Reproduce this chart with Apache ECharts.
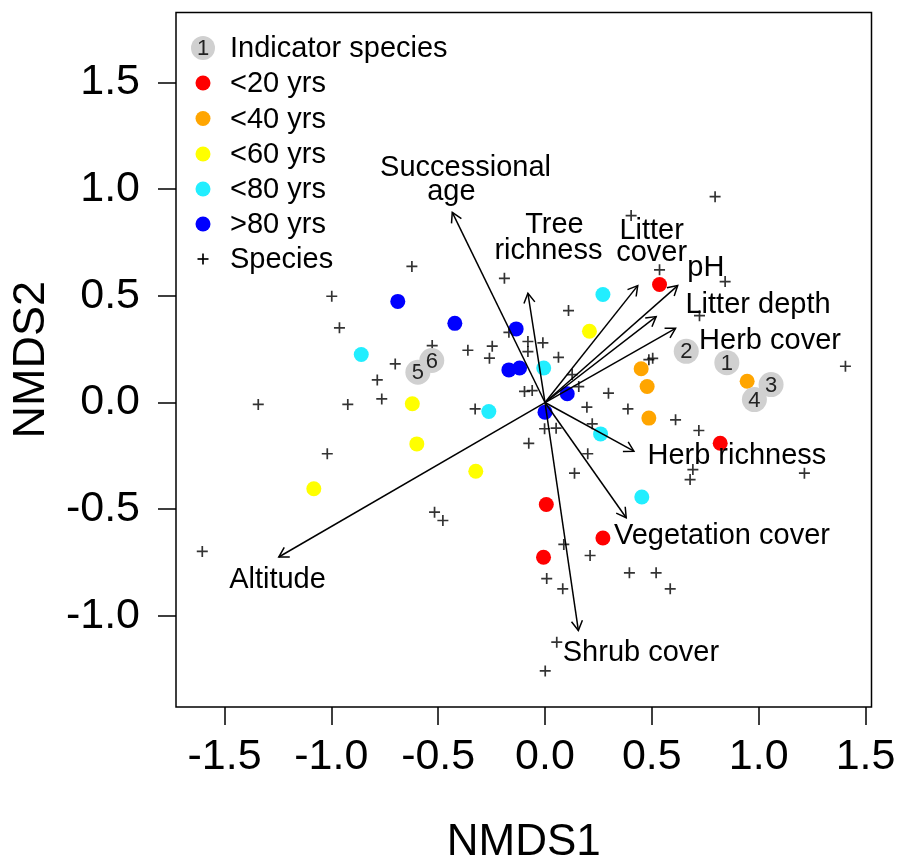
<!DOCTYPE html>
<html><head><meta charset="utf-8">
<script src="https://cdn.jsdelivr.net/npm/echarts@6/dist/echarts.min.js"></script>
<style>html,body{margin:0;padding:0;background:#fff}#c{width:901px;height:861px}</style>
</head><body><div id="c"></div>
<script>
const FONT = '"Liberation Sans", Arial, sans-serif';

// Axis tick values
const xTicks = [-1.5, -1.0, -0.5, 0.0, 0.5, 1.0, 1.5];
const yTicks = [-1.0, -0.5, 0.0, 0.5, 1.0, 1.5];

// Species scores (+)
const speciesPts = [
  [-0.998, 0.498], [-0.962, 0.350], [-0.528, 0.267], [-0.701, 0.181], [-0.785, 0.106],
  [-0.764, 0.017], [-0.923, -0.009], [-1.342, -0.009], [-0.361, 0.245], [-0.247, 0.264],
  [-0.260, 0.208], [-0.169, 0.329], [-0.080, 0.286], [-0.010, 0.280], [-0.080, 0.239],
  [-0.096, 0.052], [-0.060, 0.056], [-0.327, -0.030], [-0.002, -0.123], [-0.076, -0.191],
  [-1.019, -0.240], [-0.517, -0.514], [-0.478, -0.553], [-1.604, -0.698], [0.008, -0.825],
  [0.110, 0.431], [0.063, 0.212], [0.486, 0.201], [0.504, 0.207], [0.723, 0.407],
  [0.127, 0.131], [0.158, 0.075], [0.297, 0.044], [0.196, -0.022], [0.388, -0.030],
  [0.221, -0.100], [0.611, -0.081], [0.720, -0.131], [0.052, -0.120], [0.200, -0.240],
  [0.138, -0.331], [0.692, -0.314], [0.679, -0.361], [1.214, -0.331], [1.406, 0.170],
  [0.088, -0.665], [0.211, -0.717], [0.083, -0.873], [0.395, -0.798], [0.520, -0.798],
  [0.586, -0.873], [0.843, 0.567], [0.536, 0.622], [0.796, 0.965], [0.403, 0.876],
  [-0.623, 0.638], [-0.190, 0.582], [0.055, -1.123], [0.001, -1.258]
];

// Site scores by stand age
const sitesLt20 = [[0.536, 0.553], [0.006, -0.478], [-0.007, -0.725], [0.820, -0.191], [0.271, -0.635]];
const sitesLt40 = [[0.450, 0.158], [0.478, 0.075], [0.486, -0.073], [0.946, 0.100]];
const sitesLt60 = [[0.208, 0.334], [-0.621, -0.006], [-0.600, -0.194], [-0.324, -0.322], [-1.082, -0.404]];
const sitesLt80 = [[0.271, 0.506], [-0.860, 0.225], [-0.006, 0.162], [-0.263, -0.042], [0.260, -0.147], [0.453, -0.443]];
const sitesGt80 = [[-0.689, 0.474], [-0.422, 0.371], [-0.135, 0.345], [-0.169, 0.153], [-0.119, 0.162], [0.000, -0.045], [0.104, 0.041]];

// Indicator species
const indicatorIds = ['1', '2', '3', '4', '5', '6'];
const indicatorPts = [[0.851, 0.187], [0.661, 0.240], [1.058, 0.084], [0.980, 0.014], [-0.595, 0.142], [-0.530, 0.197]];

// Environmental vectors
const envNames = ['Successional age', 'Tree richness', 'Litter cover', 'pH', 'Litter depth', 'Herb cover',
  'Herb richness', 'Vegetation cover', 'Shrub cover', 'Altitude'];
const envX = [-0.434, -0.080, 0.434, 0.621, 0.520, 0.611, 0.416, 0.380, 0.156, -1.246];
const envY = [0.891, 0.512, 0.548, 0.548, 0.403, 0.348, -0.228, -0.540, -1.068, -0.724];

// Vector label lines and their positions
const envLabelText = ['Successional', 'age', 'Tree', 'richness', 'Litter', 'cover', 'pH', 'Litter depth',
  'Herb cover', 'Herb richness', 'Vegetation cover', 'Shrub cover', 'Altitude'];
const envLabelX = [-0.372, -0.438, 0.044, 0.016, 0.499, 0.499, 0.753, 0.997, 1.053, 0.898, 0.828, 0.449, -1.252];
const envLabelY = [1.100, 0.985, 0.833, 0.708, 0.805, 0.700, 0.630, 0.458, 0.290, -0.252, -0.627, -1.175, -0.830];

const legendNames = ['Indicator species', '<20 yrs', '<40 yrs', '<60 yrs', '<80 yrs', '>80 yrs', 'Species'];
const siteColors = ['#FF0000', '#FFA500', '#FFFF00', '#22EEFF', '#0000FF'];

const chart = echarts.init(document.getElementById('c'), null, {renderer: 'canvas'});

function siteSeries(name, data, color) {
  return {
    name: name, type: 'scatter', data: data, symbol: 'circle', symbolSize: 15, z: 3,
    itemStyle: {color: color, opacity: 1}, silent: true
  };
}

const labelData = envLabelText.map((t, i) => ({name: t, value: [envLabelX[i], envLabelY[i]]}));
const envData = envNames.map((n, i) => ({name: n, value: [envX[i], envY[i]]}));
const indicatorData = indicatorPts.map((p, i) => ({name: indicatorIds[i], value: p}));

// Legend built from graphic elements
const legendRowY = [48, 83, 118.5, 154, 189, 224, 259];
const legendGraphics = [];
legendNames.forEach((n, i) => {
  const y = legendRowY[i];
  if (i === 0) {
    legendGraphics.push({type: 'circle', shape: {cx: 203, cy: y, r: 12}, style: {fill: '#D0D0D0'}});
    legendGraphics.push({type: 'text', x: 203, y: y + 1, style: {text: '1', font: '22px ' + FONT, fill: '#222', align: 'center', verticalAlign: 'middle'}});
  } else if (i <= 5) {
    legendGraphics.push({type: 'circle', shape: {cx: 203, cy: y, r: 7.5}, style: {fill: siteColors[i - 1]}});
  } else {
    legendGraphics.push({type: 'polyline', shape: {points: [[197.5, y], [208.5, y]]}, style: {stroke: '#000', lineWidth: 1.7}});
    legendGraphics.push({type: 'polyline', shape: {points: [[203, y - 5.5], [203, y + 5.5]]}, style: {stroke: '#000', lineWidth: 1.7}});
  }
  legendGraphics.push({type: 'text', x: 230, y: y + 1, style: {text: n, font: '29px ' + FONT, fill: '#000', align: 'left', verticalAlign: 'middle'}});
});

const option = {
  animation: false,
  backgroundColor: '#fff',
  grid: {left: 176, right: 29.5, top: 12.5, bottom: 154, outerBoundsMode: 'none', containLabel: false,
    show: true, borderColor: '#000', borderWidth: 1.5, backgroundColor: 'transparent'},
  xAxis: {
    type: 'value', min: -1.727, max: 1.528,
    name: 'NMDS1', nameLocation: 'middle', nameGap: 114,
    nameTextStyle: {fontSize: 44, color: '#000', fontFamily: FONT},
    axisLine: {show: false, onZero: false},
    splitLine: {show: false},
    axisTick: {show: true, inside: false, length: 18, customValues: xTicks, lineStyle: {color: '#000', width: 1.5}},
    axisLabel: {customValues: xTicks, formatter: v => v.toFixed(1), fontSize: 43, color: '#000', fontFamily: FONT, margin: 29}
  },
  yAxis: {
    type: 'value', min: -1.427, max: 1.828,
    name: 'NMDS2', nameLocation: 'middle', nameGap: 122, nameRotate: 90,
    nameTextStyle: {fontSize: 45, color: '#000', fontFamily: FONT},
    axisLine: {show: false, onZero: false},
    splitLine: {show: false},
    axisTick: {show: true, inside: false, length: 18, customValues: yTicks, lineStyle: {color: '#000', width: 1.5}},
    axisLabel: {customValues: yTicks, formatter: v => v.toFixed(1), fontSize: 43, color: '#000', fontFamily: FONT, margin: 36}
  },
  graphic: legendGraphics,
  series: [
    {
      name: 'Species', type: 'scatter', data: speciesPts, z: 2, silent: true,
      symbol: 'path://M0,5L10,5M5,0L5,10', symbolSize: 11,
      itemStyle: {color: 'rgba(0,0,0,0)', borderColor: '#000', borderWidth: 1.7}
    },
    siteSeries('<20 yrs', sitesLt20, siteColors[0]),
    siteSeries('<40 yrs', sitesLt40, siteColors[1]),
    siteSeries('<60 yrs', sitesLt60, siteColors[2]),
    siteSeries('<80 yrs', sitesLt80, siteColors[3]),
    siteSeries('>80 yrs', sitesGt80, siteColors[4]),
    {
      name: 'Indicator species', type: 'custom', z: 4, silent: true, data: indicatorData,
      renderItem: function (params, api) {
        const p = api.coord([api.value(0), api.value(1)]);
        return {
          type: 'group', children: [
            {type: 'circle', shape: {cx: p[0], cy: p[1], r: 12.5}, style: {fill: '#D0D0D0'}},
            {type: 'text', x: p[0], y: p[1] + 1, style: {text: indicatorData[params.dataIndex].name, font: '22px ' + FONT, fill: '#222', align: 'center', verticalAlign: 'middle'}}
          ]
        };
      }
    },
    {
      name: 'Environment', type: 'custom', z: 5, silent: true, data: envData,
      renderItem: function (params, api) {
        const o = api.coord([0, 0]);
        const p = api.coord([api.value(0), api.value(1)]);
        const ang = Math.atan2(p[1] - o[1], p[0] - o[0]);
        const L = 11, A = Math.PI / 6;
        const h1 = [p[0] - L * Math.cos(ang - A), p[1] - L * Math.sin(ang - A)];
        const h2 = [p[0] - L * Math.cos(ang + A), p[1] - L * Math.sin(ang + A)];
        return {
          type: 'group', children: [
            {type: 'line', shape: {x1: o[0], y1: o[1], x2: p[0], y2: p[1]}, style: {stroke: '#000', lineWidth: 1.5}},
            {type: 'polyline', shape: {points: [h1, p, h2]}, style: {stroke: '#000', lineWidth: 1.5, fill: null}}
          ]
        };
      }
    },
    {
      name: 'Vector labels', type: 'custom', z: 6, silent: true, data: labelData,
      renderItem: function (params, api) {
        const p = api.coord([api.value(0), api.value(1)]);
        return {type: 'text', x: p[0], y: p[1], style: {text: labelData[params.dataIndex].name, font: '29px ' + FONT, fill: '#000', align: 'center', verticalAlign: 'middle'}};
      }
    }
  ]
};
chart.setOption(option);
</script>
</body></html>
